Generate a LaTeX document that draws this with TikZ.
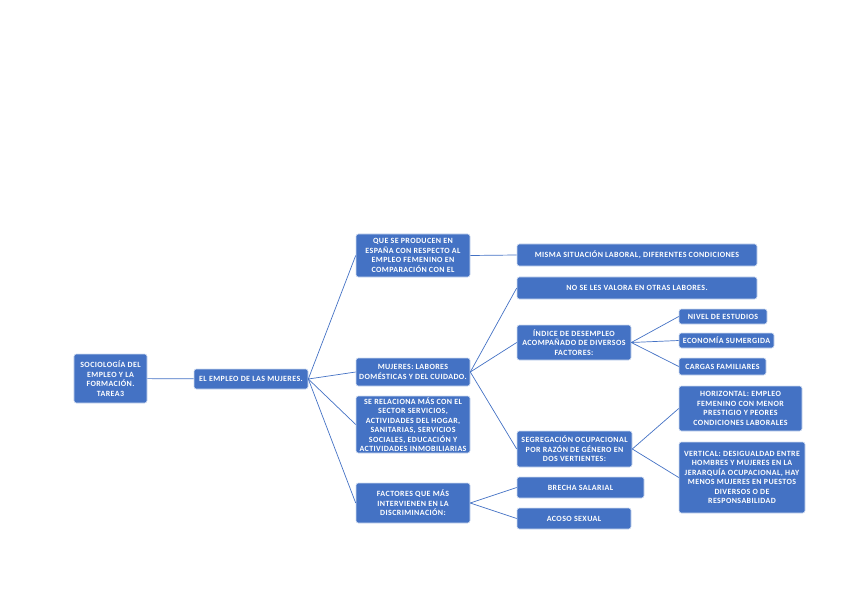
\documentclass[tikz,border=0pt]{standalone}
\usepackage{fontspec}
\setmainfont{Carlito}[LetterSpace=5]
\usetikzlibrary{positioning}
\definecolor{boxblue}{HTML}{4472C4}

\begin{document}
\begin{tikzpicture}[
    x=0.03cm, y=-0.03cm,
    every node/.style={font=\fontsize{6.8}{8.1}\selectfont\bfseries},
    box/.style={draw=white!75!boxblue, line width=0.5pt, fill=boxblue, rounded corners=2pt, text=white, align=center, inner sep=1pt},
    flow/.style={draw=boxblue, line width=0.6pt}
]
\useasboundingbox (0,0) rectangle (848,599);
\node[box, minimum width=2.19cm, minimum height=1.47cm] (tarea) at (110.5,378.5) {SOCIOLOGÍA DEL\\EMPLEO Y LA\\FORMACIÓN.\\TAREA3};
\node[box, minimum width=3.42cm, minimum height=0.6cm] (mujeres) at (251,379) {EL EMPLEO DE LAS MUJERES.};
\node[box, minimum width=3.42cm, minimum height=1.29cm] (espana) at (413,255.5) {QUE SE PRODUCEN EN\\ESPAÑA CON RESPECTO AL\\EMPLEO FEMENINO EN\\COMPARACIÓN CON EL};
\node[box, minimum width=3.42cm, minimum height=0.84cm] (labores) at (413,372) {MUJERES: LABORES\\DOMÉSTICAS Y DEL CUIDADO.};
\node[box, minimum width=3.42cm, minimum height=1.71cm] (sector) at (413,424.5) {SE RELACIONA MÁS CON EL\\SECTOR SERVICIOS,\\ACTIVIDADES DEL HOGAR,\\SANITARIAS, SERVICIOS\\SOCIALES, EDUCACIÓN Y\\ACTIVIDADES INMOBILIARIAS};
\node[box, minimum width=3.42cm, minimum height=1.2cm] (factores) at (413,503) {FACTORES QUE MÁS\\INTERVIENEN EN LA\\DISCRIMINACIÓN:};
\node[box, minimum width=7.2cm, minimum height=0.66cm] (misma) at (637,255) {MISMA SITUACIÓN LABORAL, DIFERENTES CONDICIONES};
\node[box, minimum width=7.2cm, minimum height=0.66cm] (valora) at (637,288) {NO SE LES VALORA EN OTRAS LABORES.};
\node[box, minimum width=3.42cm, minimum height=1.05cm] (indice) at (574,342.5) {ÍNDICE DE DESEMPLEO\\ACOMPAÑADO DE DIVERSOS\\FACTORES:};
\node[box, minimum width=2.64cm, minimum height=0.45cm] (nivel) at (723,316.5) {NIVEL DE ESTUDIOS};
\node[box, minimum width=2.85cm, minimum height=0.45cm] (economia) at (726.5,340.5) {ECONOMÍA SUMERGIDA};
\node[box, minimum width=2.61cm, minimum height=0.51cm] (cargas) at (722.5,366.5) {CARGAS FAMILIARES};
\node[box, minimum width=3.45cm, minimum height=1.08cm] (segregacion) at (574.5,449) {SEGREGACIÓN OCUPACIONAL\\POR RAZÓN DE GÉNERO EN\\DOS VERTIENTES:};
\node[box, minimum width=3.69cm, minimum height=1.35cm] (horizontal) at (740.5,408.5) {HORIZONTAL: EMPLEO\\FEMENINO CON MENOR\\PRESTIGIO Y PEORES\\CONDICIONES LABORALES};
\node[box, minimum width=3.78cm, minimum height=2.13cm] (vertical) at (742,477.5) {VERTICAL: DESIGUALDAD ENTRE\\HOMBRES Y MUJERES EN LA\\JERARQUÍA OCUPACIONAL, HAY\\MENOS MUJERES EN PUESTOS\\DIVERSOS O DE\\RESPONSABILIDAD};
\node[box, minimum width=3.81cm, minimum height=0.63cm] (brecha) at (580.5,487.5) {BRECHA SALARIAL};
\node[box, minimum width=3.42cm, minimum height=0.63cm] (acoso) at (574,518.5) {ACOSO SEXUAL};
\draw[flow] (tarea) -- (mujeres);
\draw[flow] (mujeres.east) -- (espana.west);
\draw[flow] (mujeres.east) -- (labores.west);
\draw[flow] (mujeres.east) -- (sector.west);
\draw[flow] (mujeres.east) -- (factores.west);
\draw[flow] (espana.east) -- (misma.west);
\draw[flow] (labores.east) -- (valora.west);
\draw[flow] (labores.east) -- (indice.west);
\draw[flow] (labores.east) -- (segregacion.west);
\draw[flow] (indice.east) -- (nivel.west);
\draw[flow] (indice.east) -- (economia.west);
\draw[flow] (indice.east) -- (cargas.west);
\draw[flow] (segregacion.east) -- (horizontal.west);
\draw[flow] (segregacion.east) -- (vertical.west);
\draw[flow] (factores.east) -- (brecha.west);
\draw[flow] (factores.east) -- (acoso.west);
\end{tikzpicture}
\end{document}
